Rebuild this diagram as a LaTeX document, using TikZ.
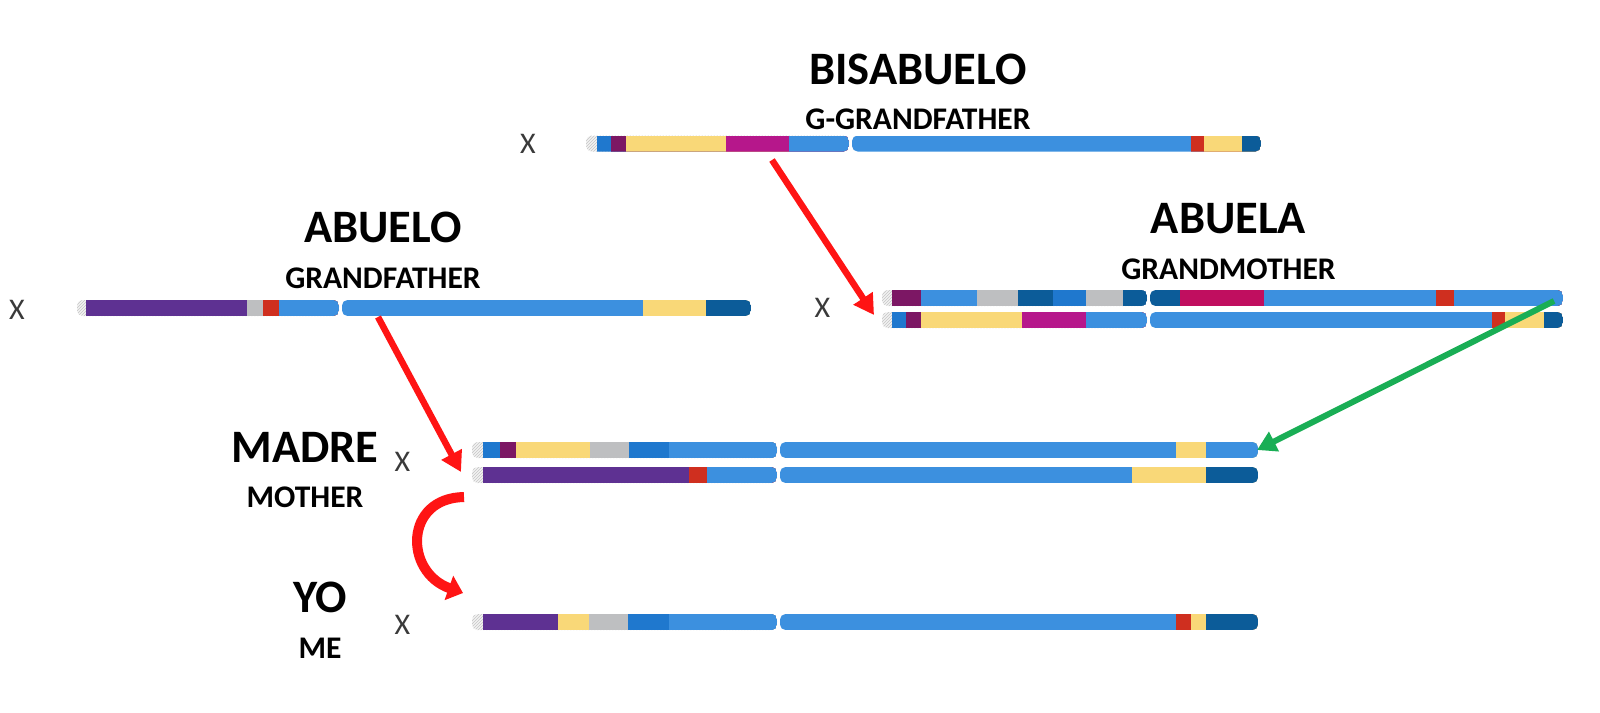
\documentclass[tikz,border=0pt]{standalone}
\usepackage{fontspec}
\setmainfont{Carlito}
\usepackage{tikz}
\usetikzlibrary{arrows.meta,positioning,patterns}
\definecolor{armblue}{HTML}{3C90DF}
\definecolor{armmed}{HTML}{1F78CE}
\definecolor{armdark}{HTML}{0C5C99}
\definecolor{armviol}{HTML}{5E3192}
\definecolor{armplum}{HTML}{7C1764}
\definecolor{armmag}{HTML}{B6178B}
\definecolor{armcrim}{HTML}{C00E5F}
\definecolor{armyel}{HTML}{F9D878}
\definecolor{armgrey}{HTML}{BEBFC1}
\definecolor{armred}{HTML}{CF2F1F}
\definecolor{passr}{HTML}{FF1414}
\definecolor{passg}{HTML}{19AE55}
\definecolor{xgrey}{HTML}{3A3A3A}
\tikzset{
  % ---- labels -----------------------------------------------------------
  hhead/.style={font=\bfseries\fontsize{46.5}{46.5}\selectfont, inner sep=0pt},
  hsub/.style={font=\bfseries\fontsize{31.5}{31.5}\selectfont, inner sep=0pt},
  xmark/.style={font=\fontsize{30}{30}\selectfont, text=xgrey, inner sep=0pt},
  % ---- chromosome bands -------------------------------------------------
  telo/.style={fill=gray!10, postaction={pattern=north east lines,
               pattern color=gray!45}},
  % ---- inheritance arrows -----------------------------------------------
  passred/.style={-{Triangle[length=20pt,width=22pt]}, draw=passr,
                  line width=6.5pt},
  passgreen/.style={-{Triangle[length=19pt,width=21pt]}, draw=passg,
                    line width=6pt},
  passbend/.style={-{Triangle[length=15pt,width=25pt]}, draw=passr,
                   line width=10pt},
}
% one arm of a chromosome: x from, x to, y, list of  start/colour
\newcommand{\chrarm}[4]{%
  \begin{scope}
    \clip[rounded corners=5.5pt] (#1,#3-8) rectangle (#2,#3+8);
    \foreach \bx/\bc in {#4}{\fill[\bc] (\bx,#3-8) rectangle (#2,#3+8);}
  \end{scope}}

\begin{document}
\begin{tikzpicture}[x=1pt, y=-1pt]
\useasboundingbox (0,0) rectangle (1600,712);

% ---- great-grandfather ----------------------------------------------------
\node[hhead] (bisa) at (918,69) {BISABUELO};
\node[hsub, below=24.5pt of bisa] (bisasub) {G-GRANDFATHER};
\node[xmark] (bisax) at (528,144) {X};
\chrarm{586}{849}{143.5}{586/telo, 597/armmed, 611/armplum, 626/armyel,
  726/armmag, 789/armblue}
\chrarm{852}{1261}{143.5}{852/armblue, 1191/armred, 1204/armyel, 1242/armdark}

% ---- grandfather ----------------------------------------------------------
\node[hhead] (abuelo) at (383,227.5) {ABUELO};
\node[hsub, below=24.5pt of abuelo] (abuelosub) {GRANDFATHER};
\node[xmark] (abuelox) at (17,310) {X};
\chrarm{77}{339}{308}{77/telo, 86/armviol, 247/armgrey, 263/armred, 279/armblue}
\chrarm{342}{751}{308}{342/armblue, 643/armyel, 706/armdark}

% ---- grandmother ----------------------------------------------------------
\node[hhead] (abuela) at (1228.5,219) {ABUELA};
\node[hsub, below=24.5pt of abuela] (abuelasub) {GRANDMOTHER};
\node[xmark] (abuelax) at (822.5,308) {X};
\chrarm{882}{1147}{298}{882/telo, 892/armplum, 921/armblue, 977/armgrey,
  1018/armdark, 1053/armmed, 1086/armgrey, 1123/armdark}
\chrarm{1150}{1563}{298}{1150/armdark, 1180/armcrim, 1264/armblue,
  1436/armred, 1454/armblue}
\chrarm{882}{1147}{320}{882/telo, 892/armmed, 906/armplum, 921/armyel,
  1022/armmag, 1086/armblue}
\chrarm{1150}{1563}{320}{1150/armblue, 1492/armred, 1505/armyel, 1544/armdark}

% ---- mother ---------------------------------------------------------------
\node[hhead] (madre) at (305,447.5) {MADRE};
\node[hsub, below=24pt of madre] (madresub) {MOTHER};
\node[xmark] (madrex) at (402.5,462) {X};
\chrarm{472}{777}{450}{472/telo, 483/armmed, 500/armplum, 516/armyel,
  590/armgrey, 629/armmed, 669/armblue}
\chrarm{780}{1258}{450}{780/armblue, 1176/armyel, 1206/armblue}
\chrarm{472}{777}{475}{472/telo, 483/armviol, 689/armred, 707/armblue}
\chrarm{780}{1258}{475}{780/armblue, 1132/armyel, 1206/armdark}

% ---- me -------------------------------------------------------------------
\node[hhead] (yo) at (320,597.5) {YO};
\node[hsub, below=24.5pt of yo] (yosub) {ME};
\node[xmark] (yox) at (402.5,625) {X};
\chrarm{472}{777}{622}{472/telo, 483/armviol, 558/armyel, 589/armgrey,
  628/armmed, 669/armblue}
\chrarm{780}{1258}{622}{780/armblue, 1176/armred, 1191/armyel, 1206/armdark}

% ---- arrows ---------------------------------------------------------------
\coordinate (bisa-out)   at (772,160);
\coordinate (abuela-in)  at (874,315);
\coordinate (abuelo-out) at (378,317);
\coordinate (madre-in)   at (461,472);
\coordinate (abuela-out) at (1554,301);
\coordinate (madre-end)  at (1257,450);
\coordinate (madre-out)  at (464,497);
\coordinate (yo-in)      at (463,593);

\draw[passred] (bisa-out) -- (abuela-in);
\draw[passred] (abuelo-out) -- (madre-in);
\draw[passgreen] (abuela-out) -- (madre-end);
\draw[passbend] (madre-out) .. controls (404,498) and (404,572) .. (yo-in);

\end{tikzpicture}
\end{document}
